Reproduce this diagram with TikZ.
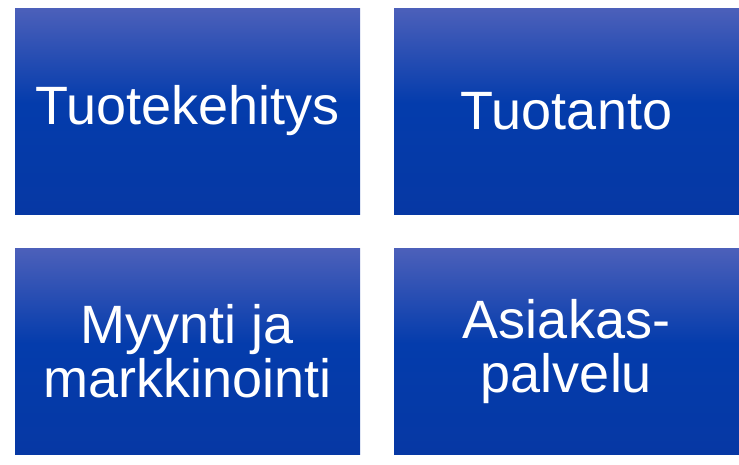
\documentclass[tikz,border=0pt]{standalone}
\usepackage{fontspec}
\setmainfont{Liberation Sans}
\definecolor{boxtop}{RGB}{76,96,186}
\definecolor{boxmid}{RGB}{4,60,172}
\definecolor{boxbot}{RGB}{6,56,164}
% the tile's height maps onto 25bp..75bp of this 100bp shading
\pgfdeclareverticalshading{tileshade}{100bp}{
  color(0bp)=(boxbot); color(25bp)=(boxbot); color(52bp)=(boxmid);
  color(75bp)=(boxtop); color(100bp)=(boxtop)}
\tikzset{
  tile/.style={rectangle, inner sep=0pt, minimum width=345pt, minimum height=206pt,
    shading=tileshade, shade,
    text=white, align=center, font=\fontsize{54}{54}\selectfont}
}
\begin{document}
\begin{tikzpicture}[x=1pt,y=-1pt]
\useasboundingbox (0,0) rectangle (739,464);
\node[tile] (a) at (187.5,111) {Tuotekehitys};
\node[tile] (b) at (566.5,111) {Tuotanto};
\node[tile] (c) at (187.5,351.5) {Myynti ja\\markkinointi};
\node[tile] (d) at (566.5,351.5) {Asiakas-\\palvelu};
\end{tikzpicture}
\end{document}
